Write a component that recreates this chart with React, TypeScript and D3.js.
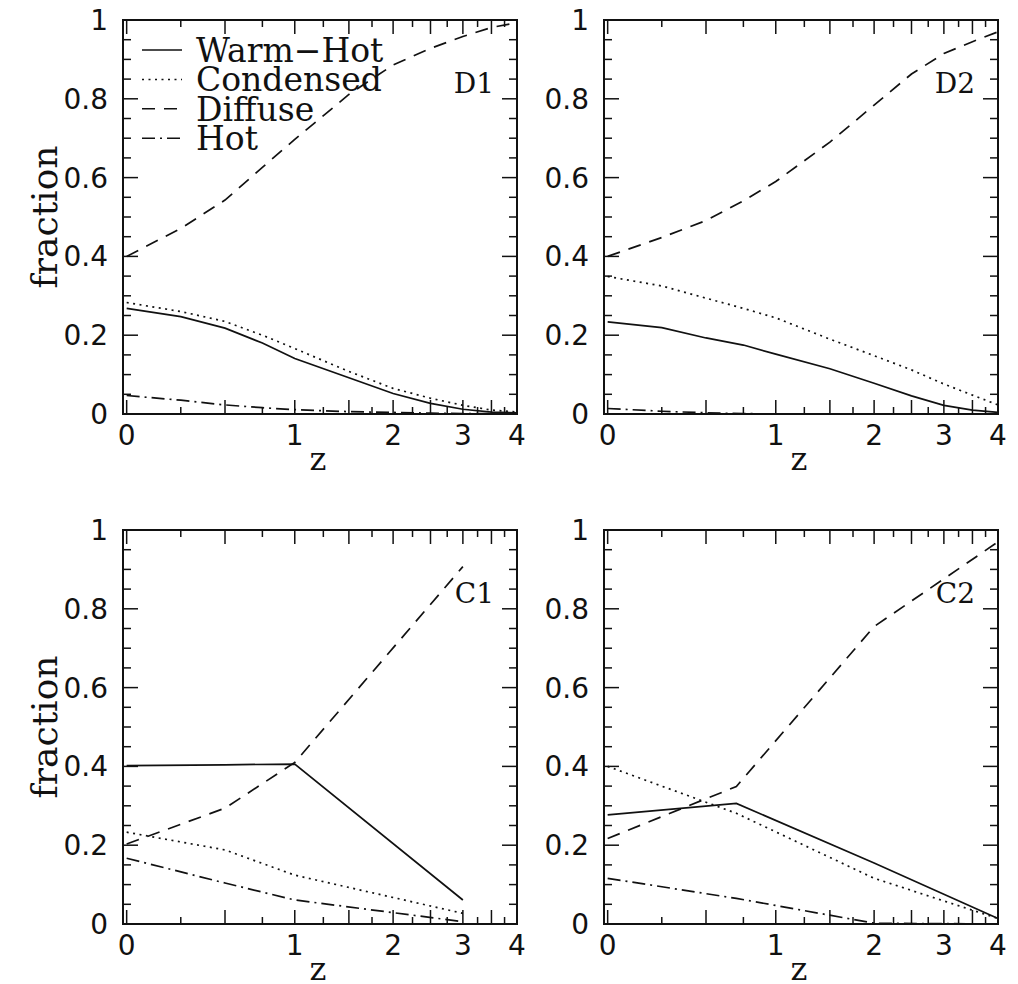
import * as d3 from 'd3';

// redshift samples
const zFine = [0, 0.25, 0.5, 0.75, 1, 1.5, 2, 2.5, 3, 3.5, 4];
const zD2Hot = [0, 0.25, 0.5, 0.75, 1];
const zC1 = [0, 0.5, 1, 3];
const zC2 = [0, 0.7, 2, 4];

// D1
const d1WarmHot = [0.268, 0.247, 0.218, 0.18, 0.141, 0.092, 0.052, 0.027, 0.012, 0.005, 0.003];
const d1Condensed = [0.283, 0.26, 0.235, 0.2, 0.166, 0.108, 0.065, 0.04, 0.022, 0.01, 0.005];
const d1Diffuse = [0.4, 0.471, 0.543, 0.626, 0.697, 0.811, 0.886, 0.928, 0.958, 0.981, 0.993];
const d1Hot = [0.047, 0.035, 0.023, 0.016, 0.011, 0.006, 0.004, 0.002, 0.001, 0.001, 0.0];

// D2
const d2WarmHot = [0.234, 0.219, 0.193, 0.175, 0.152, 0.115, 0.078, 0.046, 0.022, 0.01, 0.004];
const d2Condensed = [0.349, 0.325, 0.294, 0.268, 0.244, 0.19, 0.148, 0.112, 0.076, 0.048, 0.023];
const d2Diffuse = [0.4, 0.448, 0.491, 0.541, 0.59, 0.69, 0.784, 0.863, 0.915, 0.945, 0.97];
const d2Hot = [0.014, 0.007, 0.003, 0.001, 0.0];

// C1
const c1WarmHot = [0.402, 0.404, 0.406, 0.061];
const c1Condensed = [0.233, 0.188, 0.124, 0.027];
const c1Diffuse = [0.203, 0.294, 0.41, 0.907];
const c1Hot = [0.167, 0.104, 0.061, 0.006];

// C2
const c2WarmHot = [0.277, 0.306, 0.155, 0.014];
const c2Condensed = [0.4, 0.281, 0.116, 0.014];
const c2Diffuse = [0.217, 0.349, 0.755, 0.97];
const c2Hot = [0.116, 0.065, 0.002, 0.0];

const legendNames = ['Warm−Hot', 'Condensed', 'Diffuse', 'Hot'];
const dashes = [null, '2,4.5', '13,9', '13,5,2,5'];

const yTickValues = d3.range(0, 21).map((i) => i * 0.05);
const yLabelValues = [0, 0.2, 0.4, 0.6, 0.8, 1];
const xTickValues = d3.range(0, 17).map((i) => i * 0.25);
const xLabelValues = [0, 1, 2, 3, 4];

const SIZE = 394;
const INK = '#111';
const SANS = '"DejaVu Sans", sans-serif';
const SERIF = '"DejaVu Serif", serif';

const x = d3.scaleLog().domain([0.985, 5]).range([0, SIZE]);
const y = d3.scaleLinear().domain([0, 1]).range([SIZE, 0]);
const xz = (z: number) => x(1 + z);

type Series = { z: number[]; v: number[] };

const panels = [
  {
    name: 'D1', left: 123, top: 20, ylabel: true, legend: true,
    series: [
      { z: zFine, v: d1WarmHot }, { z: zFine, v: d1Condensed },
      { z: zFine, v: d1Diffuse }, { z: zFine, v: d1Hot },
    ],
  },
  {
    name: 'D2', left: 604, top: 20, ylabel: false, legend: false,
    series: [
      { z: zFine, v: d2WarmHot }, { z: zFine, v: d2Condensed },
      { z: zFine, v: d2Diffuse }, { z: zD2Hot, v: d2Hot },
    ],
  },
  {
    name: 'C1', left: 123, top: 530, ylabel: true, legend: false,
    series: [
      { z: zC1, v: c1WarmHot }, { z: zC1, v: c1Condensed },
      { z: zC1, v: c1Diffuse }, { z: zC1, v: c1Hot },
    ],
  },
  {
    name: 'C2', left: 604, top: 530, ylabel: false, legend: false,
    series: [
      { z: zC2, v: c2WarmHot }, { z: zC2, v: c2Condensed },
      { z: zC2, v: c2Diffuse }, { z: zC2, v: c2Hot },
    ],
  },
];

const line = d3.line<[number, number]>()
  .x((d) => xz(d[0]))
  .y((d) => y(d[1]));

function Panel({ p }: { p: (typeof panels)[number] }) {
  return (
    <g transform={`translate(${p.left},${p.top})`}>
      {/* data */}
      {p.series.map((s: Series, i) => (
        <path
          key={i}
          d={line(s.z.map((z, j) => [z, s.v[j]] as [number, number])) ?? ''}
          fill="none"
          stroke={INK}
          strokeWidth={1.7}
          strokeDasharray={dashes[i] ?? undefined}
        />
      ))}

      {/* y ticks, both sides */}
      {yTickValues.map((v, i) => {
        const len = i % 4 === 0 ? 15 : 8;
        return (
          <g key={`y${i}`} stroke={INK} strokeWidth={1.5}>
            <line x1={0} x2={len} y1={y(v)} y2={y(v)} />
            <line x1={SIZE} x2={SIZE - len} y1={y(v)} y2={y(v)} />
          </g>
        );
      })}
      {/* x ticks, bottom and top */}
      {xTickValues.map((z, i) => {
        const len = i % 2 === 0 ? 14 : 7;
        return (
          <g key={`x${i}`} stroke={INK} strokeWidth={1.5}>
            <line x1={xz(z)} x2={xz(z)} y1={SIZE} y2={SIZE - len} />
            <line x1={xz(z)} x2={xz(z)} y1={0} y2={len} />
          </g>
        );
      })}

      <rect x={0} y={0} width={SIZE} height={SIZE} fill="none" stroke={INK} strokeWidth={2} />

      {/* tick labels */}
      {yLabelValues.map((v) => (
        <text key={`yl${v}`} x={-15} y={y(v)} dy="0.36em" textAnchor="end"
          fontFamily={SANS} fontSize={28} fill={INK}>
          {String(v)}
        </text>
      ))}
      {xLabelValues.map((z) => (
        <text key={`xl${z}`} x={xz(z)} y={SIZE + 31} textAnchor="middle"
          fontFamily={SANS} fontSize={28} fill={INK}>
          {String(z)}
        </text>
      ))}

      <text x={SIZE / 2 - 2} y={SIZE + 56} textAnchor="middle" fontFamily={SERIF} fontSize={32} fill={INK}>
        z
      </text>
      {p.ylabel && (
        <text transform={`translate(${57 - p.left},${SIZE / 2}) rotate(-90)`} textAnchor="middle"
          fontFamily={SERIF} fontSize={36} fill={INK}>
          fraction
        </text>
      )}

      <text x={SIZE - 23} y={73} textAnchor="end" fontFamily={SERIF} fontSize={28} fill={INK}>
        {p.name}
      </text>

      {p.legend && legendNames.map((name, i) => {
        const ly = 30 + i * 29.4;
        return (
          <g key={name}>
            <line x1={19} x2={59} y1={ly} y2={ly} stroke={INK} strokeWidth={1.5}
              strokeDasharray={dashes[i] ?? undefined} />
            <text x={73} y={ly + 12} fontFamily={SERIF} fontSize={33} fill={INK}>{name}</text>
          </g>
        );
      })}
    </g>
  );
}

export default function App() {
  return (
    <svg width={1018} height={984} style={{ position: 'absolute', left: 0, top: 0, background: '#fff' }}>
      <rect width={1018} height={984} fill="#fff" />
      {panels.map((p) => (
        <Panel key={p.name} p={p} />
      ))}
    </svg>
  );
}
